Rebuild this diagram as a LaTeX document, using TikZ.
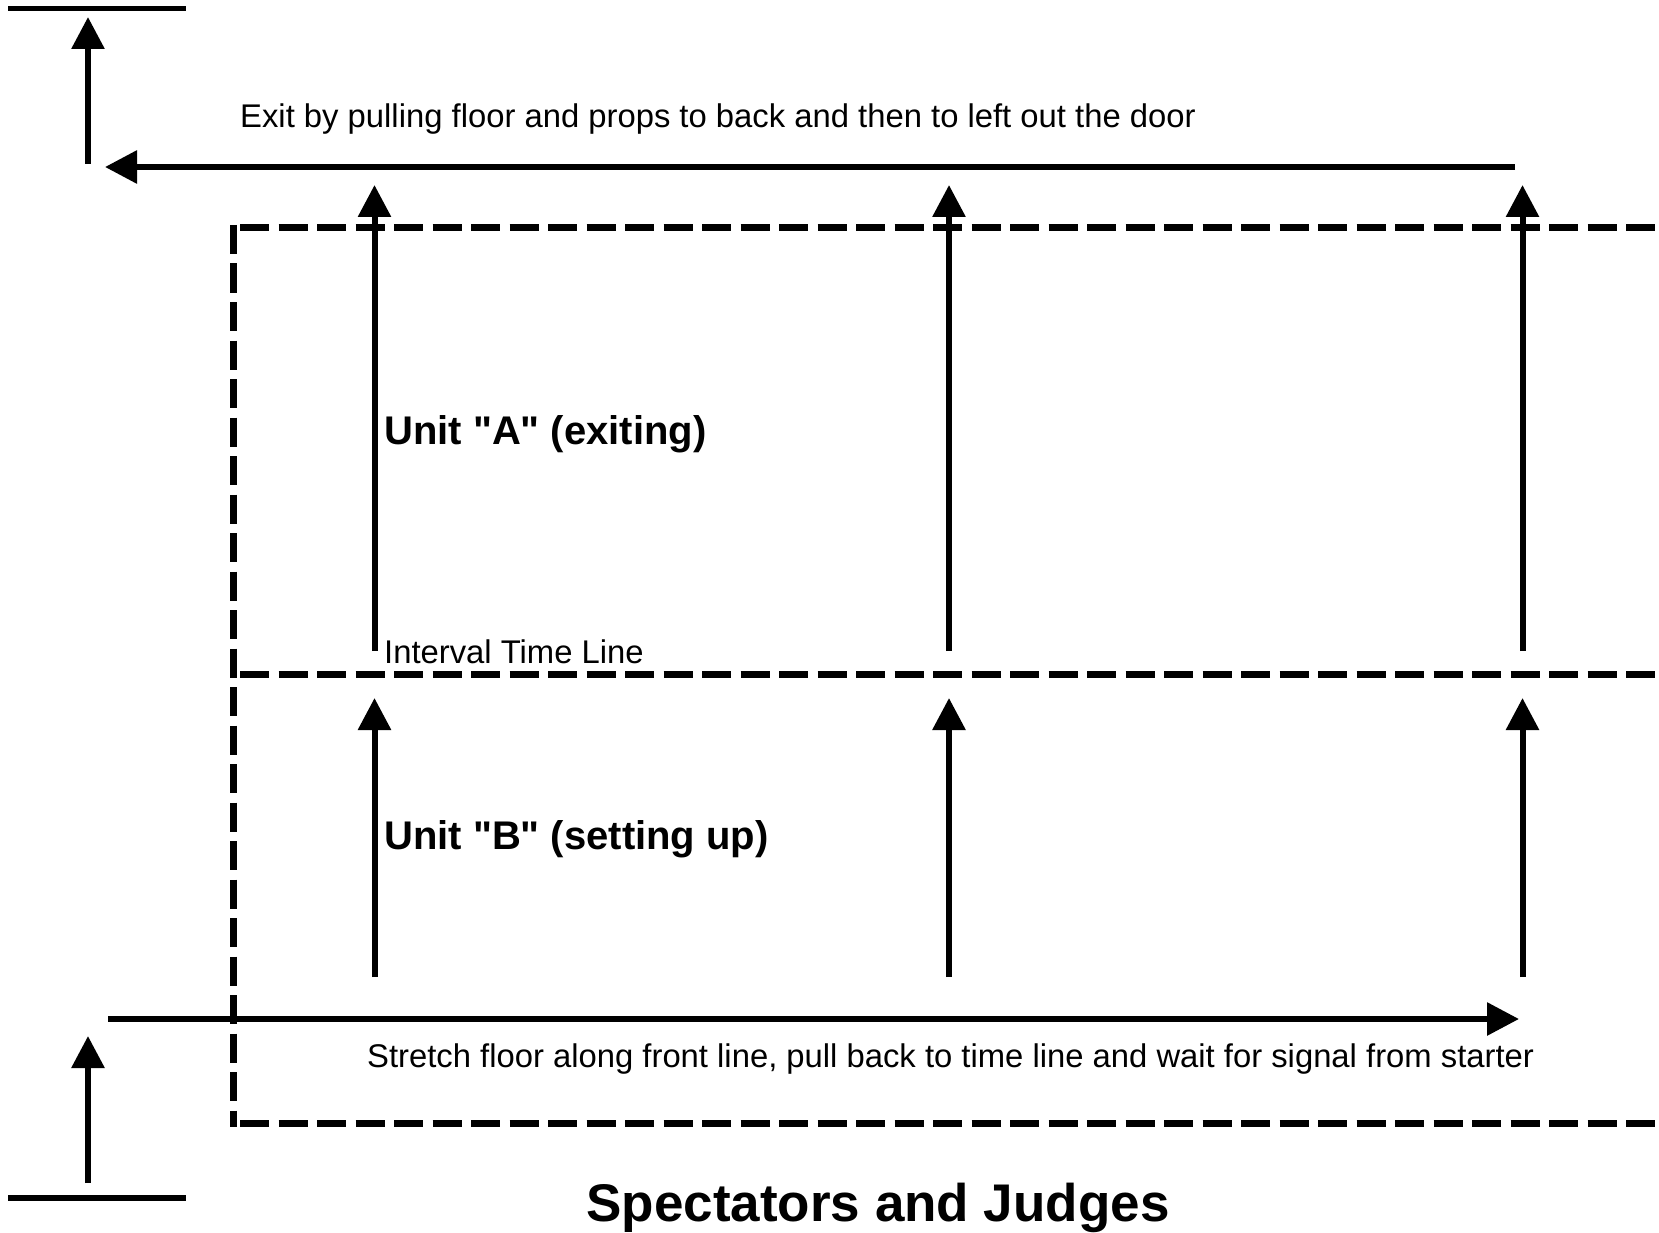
\documentclass[tikz,border=0pt]{standalone}
\usepackage{fontspec}
\setmainfont{Liberation Sans}[Ligatures=TeXOff]
\usetikzlibrary{arrows.meta}
\tikzset{
  move/.style={line width=6pt, -{Triangle[width=32pt,length=32pt]}},
  bar/.style={line width=5.5pt},
  zone/.style={line width=7pt, dash pattern=on 29pt off 9.5pt},
  note/.style={anchor=base west, inner sep=0pt, font=\fontsize{32.8}{38}\selectfont},
  unit/.style={anchor=base west, inner sep=0pt, font=\fontsize{40}{46}\selectfont\bfseries},
}
\begin{document}
\begin{tikzpicture}[x=1pt, y=-1pt]
			%%%%% START %%%%%
			\useasboundingbox (0, 0) rectangle (1659, 1233);

			% end points
			\coordinate (doorL) at (8, 8.5);     \coordinate (doorR) at (186, 8.5);
			\coordinate (gateL) at (8, 1198);    \coordinate (gateR) at (186, 1198);
			\coordinate (outS) at (88, 164);     \coordinate (outE) at (88, 17);
			\coordinate (inS) at (88, 1183);     \coordinate (inE) at (88, 1036);
			\coordinate (backS) at (1515, 167);  \coordinate (backE) at (105, 167);
			\coordinate (frontS) at (108, 1019); \coordinate (frontE) at (1519, 1019);

			\coordinate (upA1) at (374.5, 651);  \coordinate (tipA1) at (374.5, 185);
			\coordinate (upA2) at (949, 651);    \coordinate (tipA2) at (949, 185);
			\coordinate (upA3) at (1522.5, 651); \coordinate (tipA3) at (1522.5, 185);
			\coordinate (upB1) at (374.5, 977);  \coordinate (tipB1) at (374.5, 698);
			\coordinate (upB2) at (949, 977);    \coordinate (tipB2) at (949, 698);
			\coordinate (upB3) at (1522.5, 977); \coordinate (tipB3) at (1522.5, 698);

			% floor area
			\draw[zone] (233.5, 225) -- (233.5, 1127);
			\draw[zone] (240, 227.5) -- (1670, 227.5);
			\draw[zone] (240, 674.5) -- (1670, 674.5);
			\draw[zone] (240, 1123.5) -- (1670, 1123.5);

			% doors
			\draw[bar] (doorL) -- (doorR);
			\draw[bar] (gateL) -- (gateR);

			\draw[move] (outS) -- (outE);
			\draw[move] (inS) -- (inE);
			\draw[move] (backS) -- (backE);
			\draw[move] (frontS) -- (frontE);

			\draw[move] (upA1) -- (tipA1);
			\draw[move] (upA2) -- (tipA2);
			\draw[move] (upA3) -- (tipA3);
			\draw[move] (upB1) -- (tipB1);
			\draw[move] (upB2) -- (tipB2);
			\draw[move] (upB3) -- (tipB3);

			% labels
			\node[note] (exit) at (240, 128) {Exit by pulling floor and props to back and then to left out the door};
			\node[unit] (unitA) at (384, 444) {Unit "A" (exiting)};
			\node[note] (interval) at (384, 663) {Interval Time Line};
			\node[unit] (unitB) at (384, 849) {Unit "B" (setting up)};
			\node[note] (stretch) at (367, 1067) {Stretch floor along front line, pull back to time line and wait for signal from starter};
			\node[anchor=base, inner sep=0pt, font=\fontsize{53}{60}\selectfont\bfseries] (crowd) at (878, 1221) {Spectators and Judges};
			%%%%% END %%%%%
\end{tikzpicture}
\end{document}
